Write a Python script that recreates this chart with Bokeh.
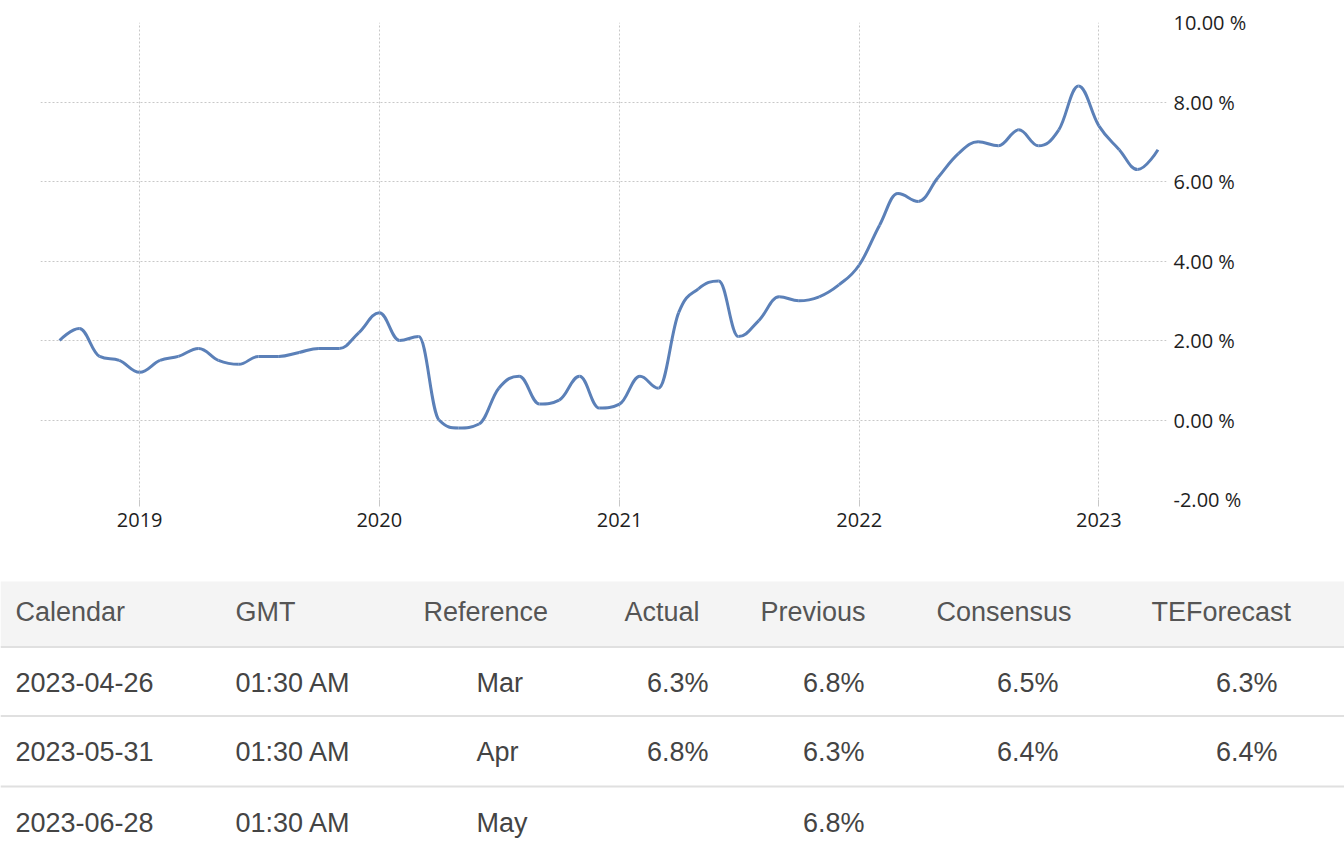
import numpy as np
import pandas as pd
from bokeh.plotting import figure
from bokeh.models import Range1d, FixedTicker, PrintfTickFormatter, DatetimeTickFormatter
from bokeh.embed import file_html
from bokeh.resources import INLINE
from bokeh.core.properties import value

# ---------------- data ----------------
first_month = "2018-09-01"
cpi_2018 = [2.0, 2.3, 1.6, 1.5]                                              # Sep-Dec
cpi_2019 = [1.2, 1.5, 1.6, 1.8, 1.5, 1.4, 1.6, 1.6, 1.7, 1.8, 1.8, 2.2]
cpi_2020 = [2.7, 2.0, 2.1, 0.0, -0.2, -0.1, 0.8, 1.1, 0.4, 0.5, 1.1, 0.3]
cpi_2021 = [0.4, 1.1, 0.8, 2.7, 3.3, 3.5, 2.1, 2.5, 3.1, 3.0, 3.1, 3.4]
cpi_2022 = [3.9, 4.9, 5.7, 5.5, 6.1, 6.7, 7.0, 6.9, 7.3, 6.9, 7.3, 8.4]
cpi_2023 = [7.4, 6.8, 6.3, 6.8]                                              # Jan-Apr
cpi = cpi_2018 + cpi_2019 + cpi_2020 + cpi_2021 + cpi_2022 + cpi_2023

year_ticks = [2019, 2020, 2021, 2022, 2023]
y_ticks = [-2, 0, 2, 4, 6, 8, 10]
y_min, y_max = -2, 10
x_start, x_end = "2018-08-03", "2023-04-14"

table_headers = ["Calendar", "GMT", "Reference", "Actual", "Previous", "Consensus", "TEForecast"]
cal_dates = ["2023-04-26", "2023-05-31", "2023-06-28"]
cal_times = ["01:30 AM", "01:30 AM", "01:30 AM"]
cal_refs = ["Mar", "Apr", "May"]
cal_actual = ["6.3%", "6.8%", ""]
cal_previous = ["6.8%", "6.3%", "6.8%"]
cal_consensus = ["6.5%", "6.4%", ""]
cal_teforecast = ["6.3%", "6.4%", ""]

# ---------------- helpers ----------------
months = pd.date_range(first_month, periods=len(cpi), freq="MS")
xs = np.array([m.value / 1e6 for m in months])  # ms
ys = np.array(cpi, dtype=float)


def spline_controls(x, y, smoothing=1.5):
    """Highcharts-style spline control points (curve passes through every data point)."""
    n = len(x)
    left = [(x[i], y[i]) for i in range(n)]
    right = [(x[i], y[i]) for i in range(n)]
    d = smoothing + 1
    for i in range(1, n - 1):
        lx, ly = x[i - 1], y[i - 1]
        nx, ny = x[i + 1], y[i + 1]
        px, py = x[i], y[i]
        lcx = (smoothing * px + lx) / d
        lcy = (smoothing * py + ly) / d
        rcx = (smoothing * px + nx) / d
        rcy = (smoothing * py + ny) / d
        if rcx != lcx:
            corr = ((rcy - lcy) * (rcx - px)) / (rcx - lcx) + py - rcy
            lcy += corr
            rcy += corr
        if lcy > ly and lcy > py:
            lcy = max(ly, py); rcy = 2 * py - lcy
        elif lcy < ly and lcy < py:
            lcy = min(ly, py); rcy = 2 * py - lcy
        if rcy > ny and rcy > py:
            rcy = max(ny, py); lcy = 2 * py - rcy
        elif rcy < ny and rcy < py:
            rcy = min(ny, py); lcy = 2 * py - rcy
        left[i] = (lcx, lcy)
        right[i] = (rcx, rcy)
    return left, right


left_c, right_c = spline_controls(xs, ys)
seg = dict(
    x0=xs[:-1], y0=ys[:-1], x1=xs[1:], y1=ys[1:],
    cx0=[right_c[i][0] for i in range(len(xs) - 1)],
    cy0=[right_c[i][1] for i in range(len(xs) - 1)],
    cx1=[left_c[i][0] for i in range(1, len(xs))],
    cy1=[left_c[i][1] for i in range(1, len(xs))],
)

# ---------------- chart ----------------
GRID = "#c8c8c8"
TICK_FONT = "Open Sans"
PAGE_W = 1344
CHART_H = 575

p = figure(
    x_axis_type="datetime", y_axis_location="right",
    x_range=Range1d(pd.Timestamp(x_start).to_pydatetime(), pd.Timestamp(x_end).to_pydatetime()),
    y_range=Range1d(y_min, y_max),
    frame_width=1126, frame_height=477,
    min_border_left=40, min_border_right=PAGE_W - 40 - 1126,
    min_border_top=22, min_border_bottom=CHART_H - 22 - 477,
    output_backend="svg", toolbar_location=None,
    outline_line_color=None, background_fill_color="white", border_fill_color="white",
)

p.bezier(x0="x0", y0="y0", x1="x1", y1="y1", cx0="cx0", cy0="cy0", cx1="cx1", cy1="cy1",
         source=seg, line_color="#5b80b8", line_width=3)

year_ms = [pd.Timestamp(f"{y}-01-01").value / 1e6 for y in year_ticks]
p.xaxis.ticker = FixedTicker(ticks=year_ms)
p.xgrid.ticker = FixedTicker(ticks=year_ms)
p.xaxis.formatter = DatetimeTickFormatter(
    years="%Y", months="%Y", days="%Y", hours="%Y", minutes="%Y",
    seconds="%Y", milliseconds="%Y", microseconds="%Y",
)
p.yaxis.ticker = FixedTicker(ticks=y_ticks)
p.ygrid.ticker = FixedTicker(ticks=y_ticks)
p.yaxis.formatter = PrintfTickFormatter(format="%.2f %%")

p.grid.grid_line_color = GRID
p.grid.grid_line_dash = "2 2"
p.grid.grid_line_width = 1

p.axis.axis_line_color = None
p.axis.minor_tick_line_color = None
p.axis.major_label_text_font = TICK_FONT
p.axis.major_label_text_font_size = "20px"
p.axis.major_label_text_color = "#1e1e1e"

p.xaxis.major_tick_line_color = GRID
p.xaxis.major_tick_out = 7
p.xaxis.major_tick_in = 0
p.xaxis.major_label_standoff = 6

p.yaxis.major_tick_line_color = None
p.yaxis.major_tick_out = 0
p.yaxis.major_tick_in = 0
p.yaxis.major_label_standoff = 7

# ---------------- table ----------------
T_TOP, T_BOTTOM = CHART_H, 845
header_top, header_bottom = 581, 646
header_mid = 611
row_mid = [682, 751, 822]
row_lines = [646.5, 715.5, 786]
header_x = [15, 235, 423, 624, 760, 936, 1151]
left_cols_x = [15, 235, 476]
right_cols_x = [708, 864, 1058, 1277]

t = figure(
    x_range=Range1d(0, PAGE_W), y_range=Range1d(T_BOTTOM, T_TOP),
    frame_width=PAGE_W, frame_height=T_BOTTOM - T_TOP,
    min_border=0, x_axis_location=None, y_axis_location=None,
    output_backend="svg", toolbar_location=None,
    outline_line_color=None, background_fill_color="white", border_fill_color="white",
)
t.grid.visible = False

t.quad(left=[0], right=[PAGE_W], top=[header_top], bottom=[header_bottom],
       fill_color="#f4f4f4", line_color=None)
t.segment(x0=[0] * 3, x1=[PAGE_W] * 3, y0=row_lines, y1=row_lines,
          line_color="#e0e0e0", line_width=2)

TABLE_FONT = value("Liberation Sans")
t.text(x=header_x, y=[header_mid] * len(table_headers), text=table_headers,
       text_font=TABLE_FONT, text_font_size="27px", text_color="#555555",
       text_align="left", text_baseline="middle")

lx, ly, lt = [], [], []
for r in range(len(cal_dates)):
    for cx, col in zip(left_cols_x, [cal_dates, cal_times, cal_refs]):
        lx.append(cx); ly.append(row_mid[r]); lt.append(col[r])
t.text(x=lx, y=ly, text=lt, text_font=TABLE_FONT, text_font_size="27px",
       text_color="#444444", text_align="left", text_baseline="middle")

rx, ry, rt = [], [], []
for r in range(len(cal_dates)):
    for cx, col in zip(right_cols_x, [cal_actual, cal_previous, cal_consensus, cal_teforecast]):
        if col[r]:
            rx.append(cx); ry.append(row_mid[r]); rt.append(col[r])
t.text(x=rx, y=ry, text=rt, text_font=TABLE_FONT, text_font_size="27px",
       text_color="#444444", text_align="right", text_baseline="middle")

open("out.html", "w").write(file_html([p, t], INLINE, title="Monthly CPI Indicator"))
